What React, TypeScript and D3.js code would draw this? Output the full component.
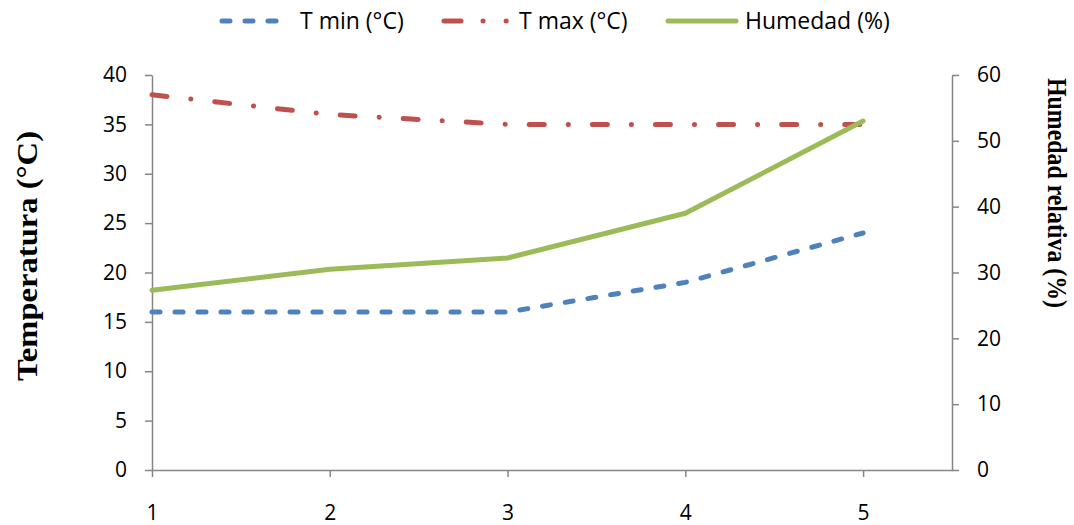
import React, { useEffect, useRef } from "react";
import * as d3 from "d3";

const days = [1, 2, 3, 4, 5];
const tMin = [16, 16, 16, 19, 24];
const tMax = [38, 36, 35, 35, 35];
const humedad = [27.3, 30.5, 32.2, 39, 53];
const tempTicks = [0, 5, 10, 15, 20, 25, 30, 35, 40];
const humTicks = [0, 10, 20, 30, 40, 50, 60];

const AXIS = "#868686";
const TICK_FONT = "'Open Sans', sans-serif";

const series = [
  { name: "T min (°C)", values: tMin, color: "#4F81BD", dash: "8,15", legendDash: "8,15", axis: "left" },
  { name: "T max (°C)", values: tMax, color: "#C0504D", dash: "15,24,0.1,24", legendDash: "17,22,0.1,23,0.1,200", axis: "left" },
  { name: "Humedad (%)", values: humedad, color: "#9BBB59", dash: null, legendDash: null, axis: "right" },
];

const App = () => {
  const svgRef = useRef<SVGSVGElement>(null);

  useEffect(() => {
    const svg = d3.select(svgRef.current);
    svg.selectAll("*").remove();

    const left = 152, right = 952, top = 75, bottom = 470;

    const x = d3.scaleLinear().domain([1, 5.5]).range([left, right]);
    const yT = d3.scaleLinear().domain([0, 40]).range([bottom, top]);
    const yH = d3.scaleLinear().domain([0, 60]).range([bottom, top]);

    const styleAxis = (g) => {
      g.select(".domain").attr("stroke", AXIS).attr("stroke-width", 1.5);
      g.selectAll(".tick line").attr("stroke", AXIS).attr("stroke-width", 1.5);
      g.selectAll(".tick text")
        .attr("fill", "#000")
        .attr("font-family", TICK_FONT)
        .attr("font-size", 21);
    };

    svg.append("g")
      .attr("transform", `translate(0,${bottom})`)
      .call(d3.axisBottom(x).tickValues(days).tickFormat(d3.format("d")).tickSize(7).tickSizeOuter(0).tickPadding(28))
      .call(styleAxis);

    svg.append("g")
      .attr("transform", `translate(${left},0)`)
      .call(d3.axisLeft(yT).tickValues(tempTicks).tickSize(7).tickSizeOuter(0).tickPadding(18))
      .call(styleAxis);

    svg.append("g")
      .attr("transform", `translate(${right},0)`)
      .call(d3.axisRight(yH).tickValues(humTicks).tickSize(7).tickSizeOuter(0).tickPadding(18))
      .call(styleAxis);

    series.forEach((s) => {
      const yScale = s.axis === "left" ? yT : yH;
      const line = d3.line<number>()
        .x((_, i) => x(days[i]))
        .y((d) => yScale(d));
      svg.append("path")
        .datum(s.values)
        .attr("d", line)
        .attr("fill", "none")
        .attr("stroke", s.color)
        .attr("stroke-width", 5)
        .attr("stroke-linecap", "round")
        .attr("stroke-linejoin", "round")
        .attr("stroke-dasharray", s.dash);
    });

    // legend
    const legendX = [222, 444, 668];
    const legendText = [300, 519, 745];
    const legend = svg.append("g");
    series.forEach((s, i) => {
      const lx = legendX[i];
      legend.append("line")
        .attr("x1", lx).attr("x2", lx + 68)
        .attr("y1", 21).attr("y2", 21)
        .attr("stroke", s.color)
        .attr("stroke-width", 5)
        .attr("stroke-linecap", "round")
        .attr("stroke-dasharray", s.legendDash);
      legend.append("text")
        .attr("x", legendText[i])
        .attr("y", 21)
        .attr("dy", "0.35em")
        .attr("font-family", TICK_FONT)
        .attr("font-size", 23)
        .text(s.name);
    });

    // axis titles
    svg.append("text")
      .attr("transform", `translate(26,256) rotate(-90)`)
      .attr("text-anchor", "middle")
      .attr("dy", "0.35em")
      .attr("font-family", "'Liberation Serif', serif")
      .attr("font-weight", "bold")
      .attr("font-size", 30)
      .attr("textLength", 250)
      .attr("lengthAdjust", "spacingAndGlyphs")
      .text("Temperatura (°C)");

    svg.append("text")
      .attr("transform", `translate(1057,193) rotate(90)`)
      .attr("text-anchor", "middle")
      .attr("dy", "0.35em")
      .attr("font-family", "'Liberation Serif', serif")
      .attr("font-weight", "bold")
      .attr("font-size", 27)
      .attr("textLength", 230)
      .attr("lengthAdjust", "spacingAndGlyphs")
      .text("Humedad relativa (%)");
  }, []);

  return (
    <svg
      ref={svgRef}
      width={1074}
      height={525}
      style={{ position: "absolute", left: 0, top: 0, background: "#fff" }}
    ></svg>
  );
};

export default App;
